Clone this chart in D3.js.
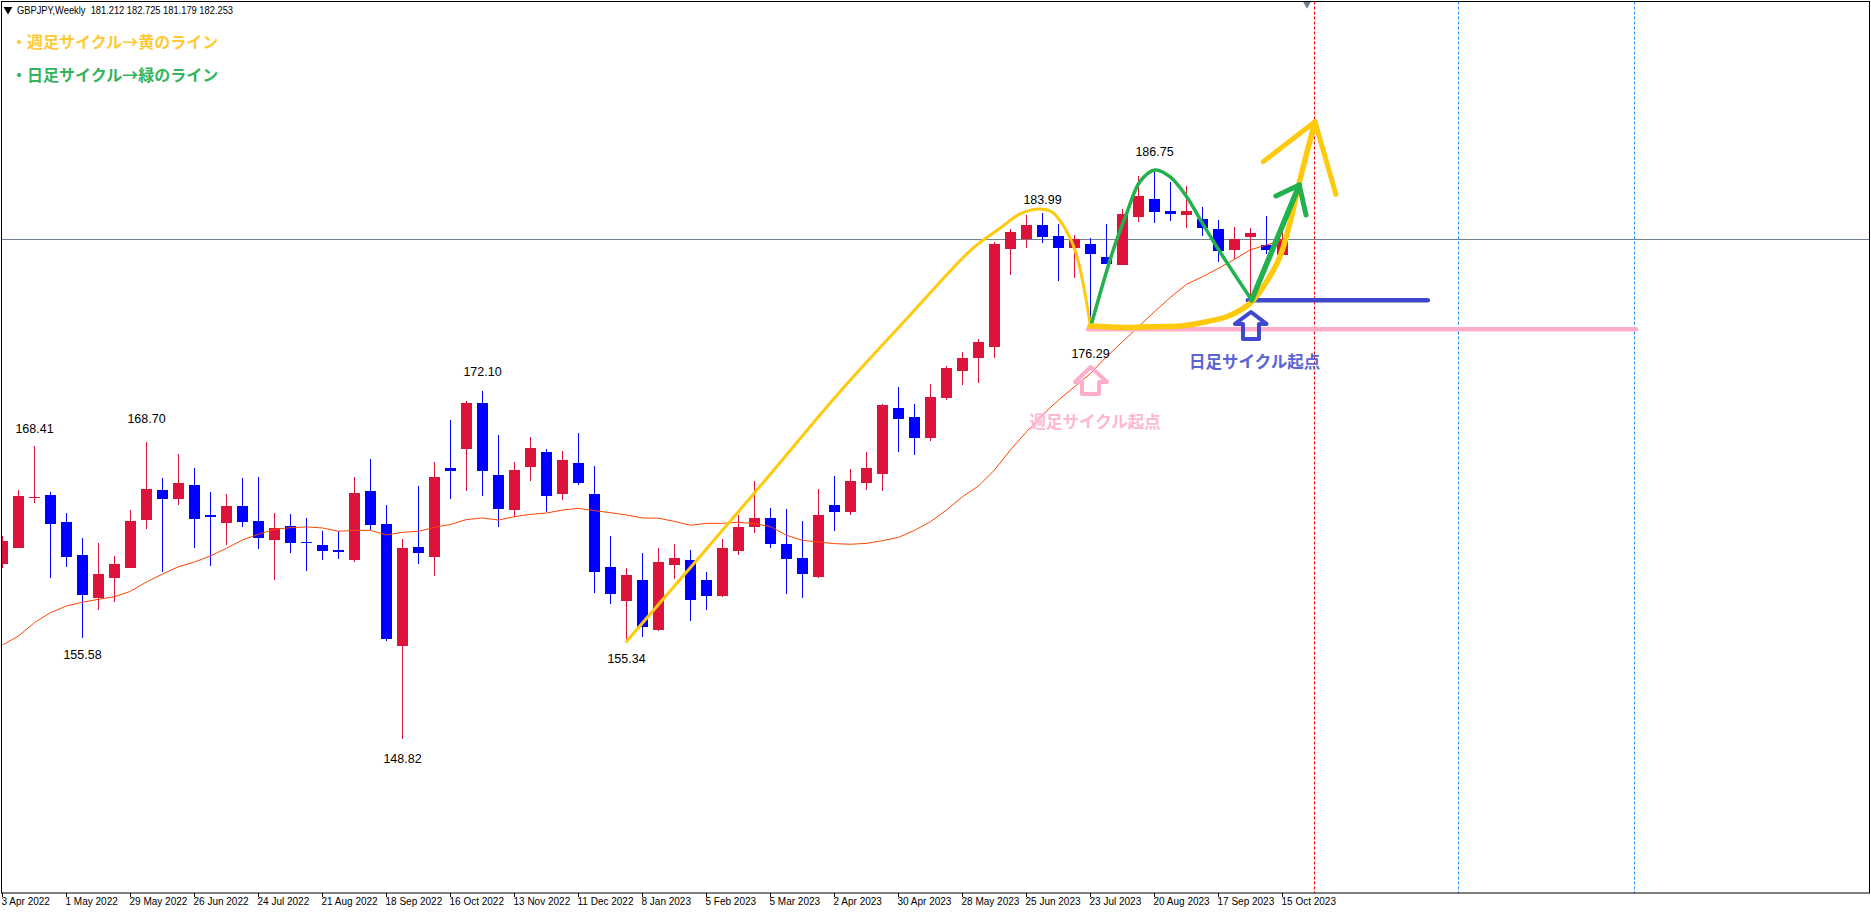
<!DOCTYPE html>
<html><head><meta charset="utf-8">
<script src="https://cdn.jsdelivr.net/npm/d3@7/dist/d3.min.js"></script>
<style>
html,body{margin:0;padding:0;background:#fff;overflow:hidden}
svg{display:block}
</style></head><body>
<script>
const tickLabels=["3 Apr 2022","1 May 2022","29 May 2022","26 Jun 2022","24 Jul 2022","21 Aug 2022","18 Sep 2022","16 Oct 2022","13 Nov 2022","11 Dec 2022","8 Jan 2023","5 Feb 2023","5 Mar 2023","2 Apr 2023","30 Apr 2023","28 May 2023","25 Jun 2023","23 Jul 2023","20 Aug 2023","17 Sep 2023","15 Oct 2023"];
const opens=[160.53,161.60,164.95,165.15,163.34,161.13,158.26,159.59,160.26,163.47,
165.48,164.88,165.82,163.81,163.27,164.41,163.41,162.14,163.07,162.00,
161.80,161.47,160.80,165.41,163.21,155.04,161.67,161.00,166.95,168.22,
171.30,166.48,164.14,167.02,168.02,165.21,167.29,165.21,160.33,158.05,
159.46,156.11,160.46,160.80,159.46,158.39,161.40,163.01,163.61,161.87,
160.93,159.66,164.48,164.01,165.95,166.55,170.97,170.36,168.96,171.63,
173.44,174.31,175.05,181.60,182.27,183.21,182.47,181.67,181.94,181.07,
180.53,183.74,184.95,184.14,183.88,183.61,182.94,181.53,182.40,181.87,181.212];
const highs=[162.40,165.48,168.41,165.35,163.94,162.27,161.94,161.07,164.14,168.70,
166.28,167.89,166.95,165.35,165.21,166.28,166.35,163.94,163.88,163.61,
162.74,162.74,166.35,167.55,164.48,162.20,165.75,167.35,170.16,171.44,
172.10,169.16,167.35,169.03,168.22,168.09,169.29,167.09,162.40,160.26,
161.27,161.60,161.87,161.47,160.00,162.20,163.81,166.08,164.28,164.21,
163.41,165.55,166.42,166.89,168.02,171.23,172.37,171.23,172.57,173.77,
174.71,175.58,182.07,182.94,183.88,183.99,183.27,182.54,182.34,183.27,
184.28,186.49,186.75,186.08,185.82,184.41,183.54,183.07,183.01,183.81,182.725];
const lows=[160.28,161.60,164.61,159.59,160.33,155.58,157.45,157.99,160.26,162.87,
160.00,164.48,161.60,160.40,161.80,163.01,161.53,159.46,161.27,160.06,
160.80,160.86,160.66,162.80,155.38,148.82,160.53,159.73,164.88,165.41,
165.08,163.01,163.67,166.08,164.01,164.81,165.82,158.59,157.85,155.34,
155.65,156.05,159.53,156.72,157.45,158.32,161.13,162.60,161.60,158.52,
158.26,159.59,162.74,163.81,165.48,165.41,168.02,167.82,168.76,171.50,
172.50,172.64,174.31,179.86,181.67,182.00,179.46,179.66,176.29,180.60,
180.53,183.41,183.34,183.48,183.01,182.47,180.73,180.93,178.19,181.30,181.179];
const closes=[162.07,165.08,165.01,163.21,161.00,158.46,159.86,160.53,163.41,165.55,
164.88,165.95,163.54,163.67,164.41,163.34,162.27,162.94,161.94,161.94,
161.40,161.33,165.28,163.14,155.51,161.60,161.27,166.35,166.75,171.30,
166.75,164.21,166.82,168.29,165.08,167.49,165.95,160.00,158.52,159.79,
156.32,160.66,160.93,158.12,158.39,161.60,163.01,163.61,161.87,160.86,
159.86,163.81,164.01,166.08,166.95,171.17,170.23,168.96,171.70,173.64,
174.31,175.38,181.94,182.74,183.21,182.40,181.67,182.27,181.27,180.60,
183.94,185.15,184.08,183.94,184.14,183.01,181.47,182.27,182.67,181.53,182.253];
const movingAverage=[155.11,155.71,156.61,157.27,157.72,157.97,158.17,158.34,158.70,159.33,
159.86,160.35,160.66,161.07,161.58,162.14,162.52,162.85,162.96,163.01,
162.94,162.72,162.78,162.78,162.47,162.65,162.72,162.98,163.18,163.50,
163.61,163.47,163.70,163.85,163.94,164.14,164.25,164.10,163.96,163.81,
163.61,163.59,163.38,163.12,163.25,163.25,163.32,163.23,163.03,162.45,
162.11,162.00,161.89,161.85,161.91,162.09,162.31,162.78,163.36,164.14,
165.03,165.75,166.82,168.16,169.38,170.50,171.50,172.39,173.28,174.40,
175.40,176.41,177.41,178.37,179.24,179.75,180.31,180.91,181.56,181.87,182.20];
const lastPrice=182.253;
const priceLabelBars=[2,9,5,25,30,39,65,68,72];
const priceLabelValues=[168.41,168.70,155.58,148.82,172.10,155.34,183.99,176.29,186.75];
const weeklyRise=[[39,155.34],[46.98,165.26],[52.34,172.06],[56.54,176.97],[60.64,181.65],[62.34,182.99],[63.59,183.95],[64.72,184.28],[65.59,184.08],[66.28,183.21],[67.03,181.54],[67.53,179.33],[67.97,176.65]];
const weeklyBase=[[67.97,176.45],[70.05,176.36],[71.92,176.41],[73.59,176.45],[75.26,176.74],[76.51,177.07],[77.55,177.63],[78.17,178.19],[79.01,179.42],[79.84,181.09],[80.46,183.32],[81.09,186.22],[82.03,190.12]];
const weeklyHead=[[78.80,187.45],[82.03,190.12],[83.34,185.26]];
const dailyArch=[[68.07,176.63],[69.42,181.54],[70.26,183.99],[71.09,186.11],[72.03,186.89],[72.96,186.44],[74.01,185.10],[74.94,183.43],[76.09,181.42],[78.07,178.19]];
const dailyRise=[[78.07,178.19],[81.05,185.88]];
const dailyHead=[[79.59,185.15],[81.05,185.88],[81.47,183.88]];
const dailyLevel=[[77.84,178.17],[89.08,178.17]];
const weeklyLevel=[[67.84,176.23],[102.09,176.23]];
const pinkArrow=[[68.01,173.71],[69.03,172.71],[68.53,172.71],[68.53,171.90],[67.47,171.90],[67.47,172.71],[67.03,172.71]];
const blueArrow=[[78.03,177.39],[79.0,176.59],[78.53,176.59],[78.53,175.58],[77.53,175.58],[77.53,176.59],[77.03,176.59]];
const futureLines=[[82,"#ff0000"],[91,"#1e90ff"],[102,"#1e90ff"]];
const headerText="GBPJPY,Weekly  181.212 182.725 181.179 182.253";
const noteWeekly="・週足サイクル→黄のライン", noteDaily="・日足サイクル→緑のライン";
const startWeekly="週足サイクル起点", startDaily="日足サイクル起点";

const W=1871,H=912,plotL=1.5,plotT=1.5,plotR=1869.5,plotB=893;
const labelGap=[-17,-23,17,20,-19,17.5,-13.3,25.6,-20];
const x=d3.scaleLinear().domain([0,110]).range([2.5,1762.5]);
const y=d3.scaleLinear().domain([148.82,lastPrice]).range([739,239.3]);
const svg=d3.select("body").append("svg").attr("width",W).attr("height",H).attr("viewBox",`0 0 ${W} ${H}`);
svg.append("defs").append("clipPath").attr("id","plot").append("rect").attr("x",plotL).attr("y",plotT).attr("width",plotR-plotL).attr("height",plotB-plotT);
const g=svg.append("g").attr("clip-path","url(#plot)");
const latin="'Liberation Sans',Arial,sans-serif", cjk="'Noto Sans CJK JP',sans-serif";

// future vertical markers and current price
g.selectAll(".vl").data(futureLines).join("line").attr("x1",d=>x(d[0])).attr("x2",d=>x(d[0])).attr("y1",plotT).attr("y2",plotB)
 .attr("stroke",d=>d[1]).attr("stroke-width",1).attr("stroke-dasharray","3 2");
g.append("line").attr("x1",plotL).attr("x2",plotR).attr("y1",Math.round(y(lastPrice))+.5).attr("y2",Math.round(y(lastPrice))+.5).attr("stroke","#708090").attr("stroke-width",1);

// candles
const col=i=>closes[i]>=opens[i]?"#dc143c":"#0000ff";
const bars=d3.range(opens.length);
g.selectAll(".w").data(bars).join("line").attr("x1",i=>x(i)).attr("x2",i=>x(i)).attr("y1",i=>y(highs[i])).attr("y2",i=>y(lows[i])).attr("stroke",col).attr("stroke-width",1).attr("shape-rendering","crispEdges");
g.selectAll(".b").data(bars).join("rect").attr("x",i=>x(i)-5.5).attr("width",11)
 .attr("y",i=>Math.round(y(Math.max(opens[i],closes[i]))))
 .attr("height",i=>Math.max(1,Math.round(y(Math.min(opens[i],closes[i])))-Math.round(y(Math.max(opens[i],closes[i])))))
 .attr("fill",col).attr("shape-rendering","crispEdges");

// moving average
const ln=d3.line().x(d=>x(d[0])).y(d=>y(d[1]));
g.append("path").attr("d",ln(movingAverage.map((v,i)=>[i,v]))).attr("fill","none").attr("stroke","#ff4500").attr("stroke-width",1);

// hand-drawn annotations
const stroke=(pts,color,w,curved)=>g.append("path")
  .attr("d",(curved?d3.line().x(d=>x(d[0])).y(d=>y(d[1])).curve(d3.curveCatmullRom.alpha(.5)):ln)(pts))
  .attr("fill","none").attr("stroke",color).attr("stroke-width",w).attr("stroke-linecap","round").attr("stroke-linejoin","round");
stroke(weeklyLevel,"#ffaec9",4.5);
stroke(dailyLevel,"#3f48cc",4.5);
stroke(weeklyRise,"#ffc90e",3,true);
stroke(dailyArch,"#22b14c",3.5,true);
stroke(weeklyBase,"#ffc90e",5.5,true);
stroke(weeklyHead,"#ffc90e",5);
stroke(dailyRise,"#22b14c",5.5);
stroke(dailyHead,"#22b14c",5);
g.append("path").attr("d",ln(pinkArrow)+"Z").attr("fill","none").attr("stroke","#ffaec9").attr("stroke-width",4).attr("stroke-linejoin","round");
g.append("path").attr("d",ln(blueArrow)+"Z").attr("fill","none").attr("stroke","#3f48cc").attr("stroke-width",4).attr("stroke-linejoin","round");

// high / low labels
g.selectAll(".pl").data(priceLabelBars).join("text").attr("x",d=>x(d))
 .attr("y",(d,i)=>y(priceLabelValues[i])+labelGap[i])
 .attr("text-anchor","middle").attr("dominant-baseline","central").attr("font-family",latin).attr("font-size",12.5).attr("fill","#000")
 .text((d,i)=>priceLabelValues[i].toFixed(2));

// header & notes
g.append("path").attr("d",d3.symbol(d3.symbolTriangle,34)()).attr("transform","translate(8,9.5) rotate(180)").attr("fill","#000");
g.append("text").attr("x",17).attr("y",14).attr("font-family",latin).attr("font-size",10.5).attr("fill","#000").attr("style","white-space:pre")
 .attr("textLength",216).attr("lengthAdjust","spacingAndGlyphs").text(headerText);
const note=(t,xv,yv,c,fs)=>g.append("text").attr("x",xv).attr("y",yv).attr("dominant-baseline","central").attr("font-family",cjk).attr("font-weight",700).attr("font-size",fs).attr("fill",c).text(t);
note(noteWeekly,11,41,"#ffc933",16);
note(noteDaily,11,74,"#34b45c",16);
note(startWeekly,1029.5,421,"#ffb6d0",16.5);
note(startDaily,1189,360.5,"#5a64d2",16.5);

// top-of-chart shift marker
svg.append("path").attr("d",d3.symbol(d3.symbolTriangle,30)()).attr("transform",`translate(${x(81.53)},4) rotate(180)`).attr("fill","#708090");

// frame & axis
svg.append("rect").attr("x",plotL).attr("y",plotT).attr("width",plotR-plotL).attr("height",plotB-plotT).attr("fill","none").attr("stroke","#000").attr("stroke-width",1);
const axis=d3.axisBottom(x).tickValues(d3.range(0,81,4)).tickFormat((d,i)=>tickLabels[i]).tickSize(4).tickPadding(1).offset(0);
const ax=svg.append("g").attr("transform",`translate(0,${plotB})`).call(axis);
ax.select(".domain").remove();
ax.selectAll(".tick line").attr("stroke","#000").attr("shape-rendering","crispEdges");
ax.selectAll(".tick text").attr("text-anchor","start").attr("x",-1).attr("font-family",latin).attr("font-size",10).attr("fill","#000");
</script>
</body></html>
